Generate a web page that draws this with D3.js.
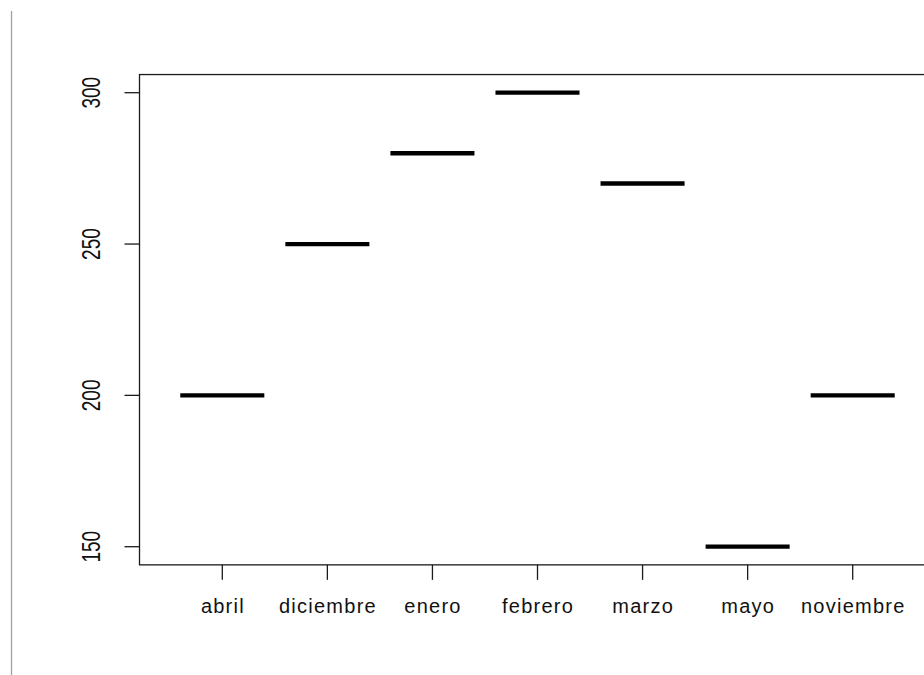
<!DOCTYPE html>
<html>
<head>
<meta charset="utf-8">
<script src="https://cdn.jsdelivr.net/npm/d3@7"></script>
<style>
  html, body { margin: 0; padding: 0; background: #fff; }
  svg { display: block; }
</style>
</head>
<body>
<svg id="chart" width="924" height="675"></svg>
<script>
const categories = ["abril", "diciembre", "enero", "febrero", "marzo", "mayo", "noviembre"];
const medians = [200, 250, 280, 300, 270, 150, 200];
const yTicks = [150, 200, 250, 300];

const svg = d3.select("#chart");

const x = d3.scaleLinear().domain([1, 7]).range([222.3, 852.7]);
const y = d3.scaleLinear().domain([150, 300]).range([546.7, 92.7]);

const xLo = 0.212, xHi = 7.78, yLo = 144, yHi = 306;

// gray line at left edge
svg.append("line")
  .attr("x1", 11.5).attr("x2", 11.5)
  .attr("y1", 11).attr("y2", 675)
  .attr("stroke", "#a0a0a0").attr("stroke-width", 1.3);

// plot frame
svg.append("rect")
  .attr("x", x(xLo)).attr("y", y(yHi))
  .attr("width", x(xHi) - x(xLo)).attr("height", y(yLo) - y(yHi))
  .attr("fill", "none").attr("stroke", "#1a1a1a").attr("stroke-width", 1.3);

// median lines
const half = 0.4;
svg.append("g").selectAll("line")
  .data(categories)
  .join("line")
  .attr("x1", (d, i) => x(i + 1 - half))
  .attr("x2", (d, i) => x(i + 1 + half))
  .attr("y1", (d, i) => y(medians[i]))
  .attr("y2", (d, i) => y(medians[i]))
  .attr("stroke", "#000").attr("stroke-width", 4.3);

// y axis ticks & labels
const yAxis = svg.append("g");
yAxis.selectAll("line").data(yTicks).join("line")
  .attr("x1", x(xLo) - 15).attr("x2", x(xLo))
  .attr("y1", d => y(d)).attr("y2", d => y(d))
  .attr("stroke", "#1a1a1a").attr("stroke-width", 1.3);
yAxis.selectAll("text").data(yTicks).join("text")
  .attr("transform", d => `translate(100,${y(d)}) rotate(-90) scale(1,1.4)`)
  .attr("text-anchor", "middle")
  .attr("font-family", "Liberation Sans, Arial, sans-serif")
  .attr("font-size", 19)
  .attr("fill", "#111")
  .text(d => d);

// x axis ticks & labels
const xAxis = svg.append("g");
xAxis.selectAll("line").data(categories).join("line")
  .attr("x1", (d, i) => x(i + 1)).attr("x2", (d, i) => x(i + 1))
  .attr("y1", y(yLo)).attr("y2", y(yLo) + 15)
  .attr("stroke", "#1a1a1a").attr("stroke-width", 1.3);
xAxis.selectAll("text").data(categories).join("text")
  .attr("x", (d, i) => x(i + 1) + 0.6)
  .attr("y", 613)
  .attr("text-anchor", "middle")
  .attr("font-family", "Liberation Sans, Arial, sans-serif")
  .attr("font-size", 20)
  .attr("letter-spacing", 1.25)
  .attr("fill", "#111")
  .text(d => d);
</script>
</body>
</html>
